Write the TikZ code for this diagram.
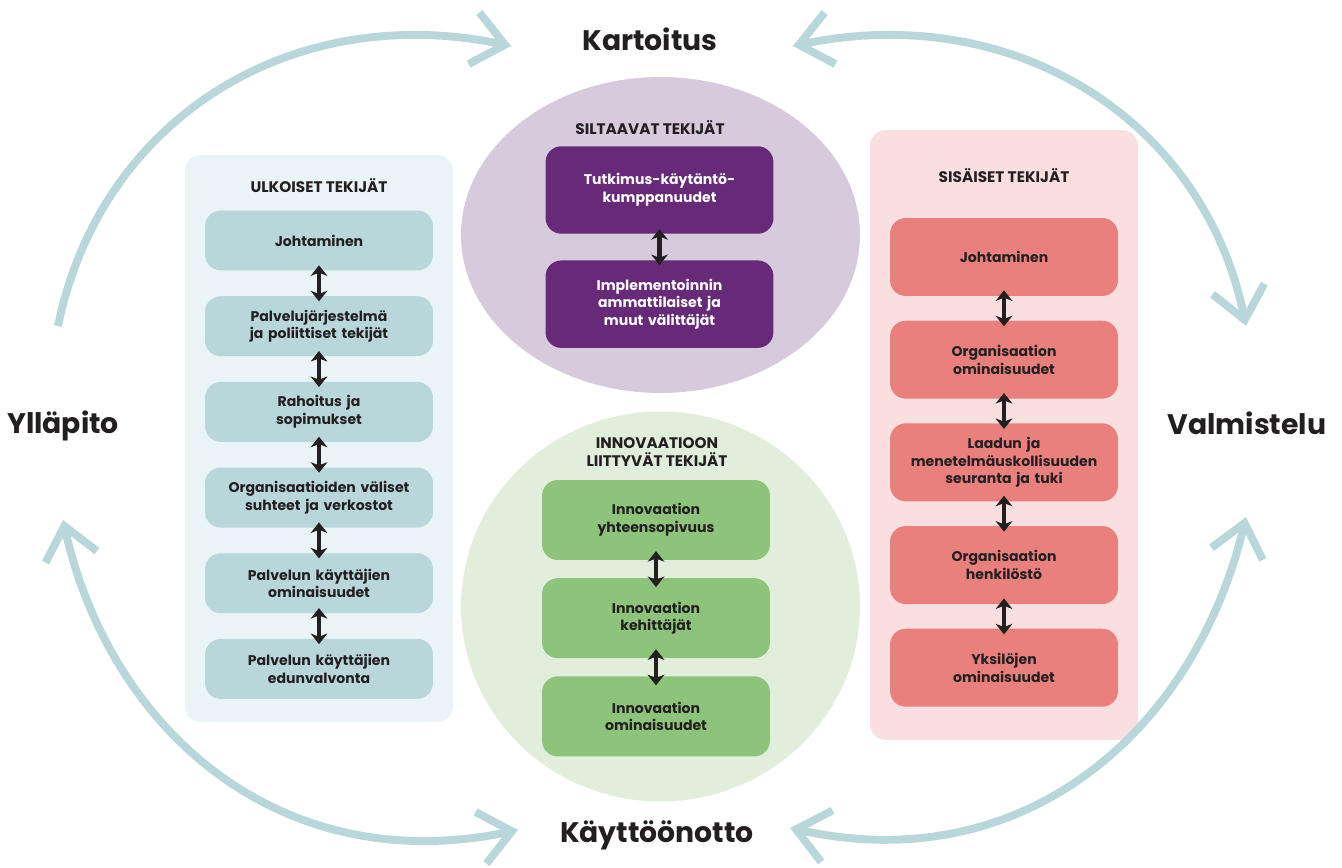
\documentclass[tikz,border=0pt]{standalone}
\usepackage{fontspec}
\setmainfont{Poppins}
\usetikzlibrary{arrows.meta, positioning, calc}

\definecolor{phaseblue}{HTML}{B9D7DB}
\definecolor{ulkbg}{HTML}{EAF3F5}
\definecolor{ulkbox}{HTML}{B9D7DB}
\definecolor{siltbg}{HTML}{D8CADD}
\definecolor{siltbox}{HTML}{662A78}
\definecolor{innobg}{HTML}{E1EEDC}
\definecolor{innobox}{HTML}{8DC37A}
\definecolor{sisbg}{HTML}{FADFE1}
\definecolor{sisbox}{HTML}{E9807E}
\definecolor{inkdark}{HTML}{231F20}

\tikzset{
    panel/.style={rectangle, rounded corners=9pt, inner sep=0pt, minimum width=5.36cm},
    factor/.style={rectangle, rounded corners=9pt, align=center, minimum width=4.56cm, text width=4.3cm, inner sep=0pt, text=inkdark, font=\fontsize{8}{10}\selectfont\bfseries},
    ulkfactor/.style={factor, fill=ulkbox, minimum height=1.2cm},
    siltfactor/.style={factor, fill=siltbox, text=white, minimum height=1.75cm},
    innofactor/.style={factor, fill=innobox, minimum height=1.6cm},
    sisfactor/.style={factor, fill=sisbox, minimum height=1.56cm},
    heading/.style={align=center, text=inkdark, font=\fontsize{8.7}{10.5}\selectfont\bfseries},
    stage/.style={anchor=base, text=inkdark, font=\fontsize{16.1}{19}\selectfont\bfseries},
    smalltip/.tip={Stealth[length=6pt,width=9.5pt,inset=1.8pt]},
    link/.style={draw=inkdark, line width=2.3pt, smalltip-smalltip},
    phasearc/.style={draw=phaseblue, line width=4.5pt},
    bigbarb/.tip={Straight Barb[length=18pt,width=30pt]}
}

\begin{document}
\begin{tikzpicture}[x=0.02cm, y=-0.02cm, node distance=0.5cm]
    \useasboundingbox (0,0) rectangle (1342,868);

    % Background areas
    \node[panel, fill=ulkbg, minimum height=11.34cm] (ulkoiset) at (319,438.5) {};
    \node[panel, fill=sisbg, minimum height=12.2cm] (sisaiset) at (1004,435) {};
    \fill[siltbg] (660.5,235) ellipse [x radius=3.99cm, y radius=3.16cm]; % Siltaavat
    \fill[innobg] (660.5,606.5) ellipse [x radius=3.99cm, y radius=3.9cm]; % Innovaatio

    % Headings
    \node[heading] (h_ulk) at (319,186) {ULKOISET TEKIJÄT};
    \node[heading] (h_silt) at (650,128) {SILTAAVAT TEKIJÄT};
    \node[heading] (h_inno) at (657,452) {INNOVAATIOON\\LIITTYVÄT TEKIJÄT};
    \node[heading] (h_sis) at (1004,176) {SISÄISET TEKIJÄT};

    % Ulkoiset tekijät - left column
    \node[ulkfactor] (u1) at (319,240.5) {Johtaminen};
    \node[ulkfactor, below=of u1] (u2) {Palvelujärjestelmä\\ja poliittiset tekijät};
    \node[ulkfactor, below=of u2] (u3) {Rahoitus ja\\sopimukset};
    \node[ulkfactor, below=of u3] (u4) {Organisaatioiden väliset\\suhteet ja verkostot};
    \node[ulkfactor, below=of u4] (u5) {Palvelun käyttäjien\\ominaisuudet};
    \node[ulkfactor, below=of u5] (u6) {Palvelun käyttäjien\\edunvalvonta};

    % Siltaavat tekijät - top ellipse
    \node[siltfactor] (s1) at (659.5,190) {Tutkimus-käytäntö-\\kumppanuudet};
    \node[siltfactor, below=0.52cm of s1] (s2) {Implementoinnin\\ammattilaiset ja\\muut välittäjät};

    % Innovaatioon liittyvät tekijät - bottom circle
    \node[innofactor] (i1) at (656,520) {Innovaation\\yhteensopivuus};
    \node[innofactor, below=0.35cm of i1] (i2) {Innovaation\\kehittäjät};
    \node[innofactor, below=0.35cm of i2] (i3) {Innovaation\\ominaisuudet};

    % Sisäiset tekijät - right column
    \node[sisfactor] (p1) at (1004,257) {Johtaminen};
    \node[sisfactor, below=0.48cm of p1] (p2) {Organisaation\\ominaisuudet};
    \node[sisfactor, below=0.48cm of p2] (p3) {Laadun ja\\menetelmäuskollisuuden\\seuranta ja tuki};
    \node[sisfactor, below=0.48cm of p3] (p4) {Organisaation\\henkilöstö};
    \node[sisfactor, below=0.48cm of p4] (p5) {Yksilöjen\\ominaisuudet};

    % Two-way links inside the columns
    \foreach \a/\b in {u1/u2, u2/u3, u3/u4, u4/u5, u5/u6, s1/s2, i1/i2, i2/i3, p1/p2, p2/p3, p3/p4, p4/p5}
        \draw[link] ($(\a.south)!.5!(\b.north)+(0,-18)$) -- ($(\a.south)!.5!(\b.north)+(0,18)$);

    % Phases
    \node[stage] (kartoitus) at (650,51) {Kartoitus};
    \node[stage] (valmistelu) at (1247,434) {Valmistelu};
    \node[stage] (kayttoonotto) at (657,842) {Käyttöönotto};
    \node[stage] (yllapito) at (63,433) {Ylläpito};

    \coordinate (ylla-top) at (58,326);
    \coordinate (kart-left) at (511,46);
    \coordinate (kart-right) at (793,46);
    \coordinate (valm-top) at (1246,326);
    \coordinate (valm-bot) at (1246,517);
    \coordinate (kayt-right) at (790,828);
    \coordinate (kayt-left) at (518,830);
    \coordinate (ylla-bot) at (63,520);

    % Cycle arcs between the phases
    \draw[phasearc, -bigbarb] (ylla-top) .. controls (100,120) and (290,0) .. (kart-left);
    \draw[phasearc, bigbarb-bigbarb] (kart-right) .. controls (1014,0) and (1204,120) .. (valm-top);
    \draw[phasearc, bigbarb-bigbarb] (valm-bot) .. controls (1195,730) and (1025,880) .. (kayt-right);
    \draw[phasearc, bigbarb-bigbarb] (kayt-left) .. controls (280,880) and (110,730) .. (ylla-bot);

\end{tikzpicture}
\end{document}
